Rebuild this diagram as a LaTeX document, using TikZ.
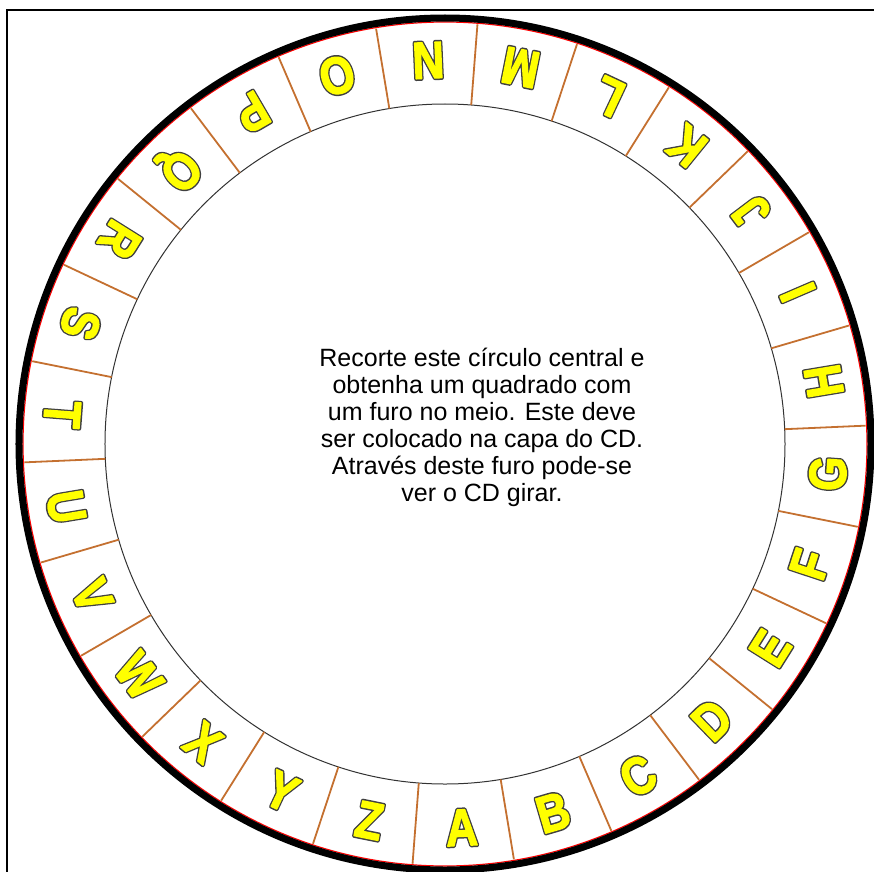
\documentclass[tikz,border=0pt]{standalone}
\usepackage{fontspec}
\setmainfont{Liberation Sans}
\usepackage{xcolor}
\usetikzlibrary{positioning}

\definecolor{tickbrown}{RGB}{196,112,48}
\definecolor{letteryellow}{RGB}{255,255,0}

% yellow letters with a dark outline: dark stroke below, yellow fill+stroke above
\newcommand{\outlined}[1]{%
    \makebox[0pt][l]{\color{black!75}%
        \special{pdf:literal direct 1 Tr 4.4 w 1 j 0.25 0.25 0.25 RG}#1%
        \special{pdf:literal direct 0 Tr}}%
    {\color{letteryellow}%
        \special{pdf:literal direct 2 Tr 1.4 w 1 j 1 1 0 RG}#1%
        \special{pdf:literal direct 0 Tr}}}

\begin{document}
\begin{tikzpicture}[
    x=1pt, y=1pt,
    rim/.style={draw=black, line width=7pt},
    cutline/.style={draw=red, line width=1.2pt},
    innerline/.style={draw=black!80, line width=1pt},
    divider/.style={draw=tickbrown, line width=1.8pt},
    letter/.style={inner sep=0pt, font=\fontsize{52}{52}\selectfont\bfseries},
    note/.style={align=center, font=\fontsize{25}{27}\selectfont}
]
    \useasboundingbox (-445,-427) rectangle (429,444);

    % Frame
    \draw[line width=1.2pt] (-438,-430) -- (-438,434) -- (432,434);

    % Rings
    \draw[innerline] (0,0) circle (340);
    \draw[cutline] (0,0) circle (422);
    \draw[rim] (0,0) circle (426);

    % Dividers and letters
    \foreach \l [count=\i from 0] in {A,B,C,D,E,F,G,H,I,J,K,L,M,N,O,P,Q,R,S,T,U,V,W,X,Y,Z} {
        \pgfmathsetmacro{\ang}{-87.5+\i*360/26}
        \pgfmathsetmacro{\cut}{\ang+180/26}
        \draw[divider] (\cut:340) -- (\cut:421);
        \node[letter, rotate=\ang+90] (letter-\l) at (\ang:384)
            {\scalebox{0.85}[1]{\outlined{\l}}};
    }

    % Centre text
    \node[note] (hint) at (37,17) {Recorte este círculo central e\\
        obtenha um quadrado com\\
        um furo no meio. Este deve\\
        ser colocado na capa do CD.\\
        Através deste furo pode-se\\
        ver o CD girar.};
\end{tikzpicture}
\end{document}
